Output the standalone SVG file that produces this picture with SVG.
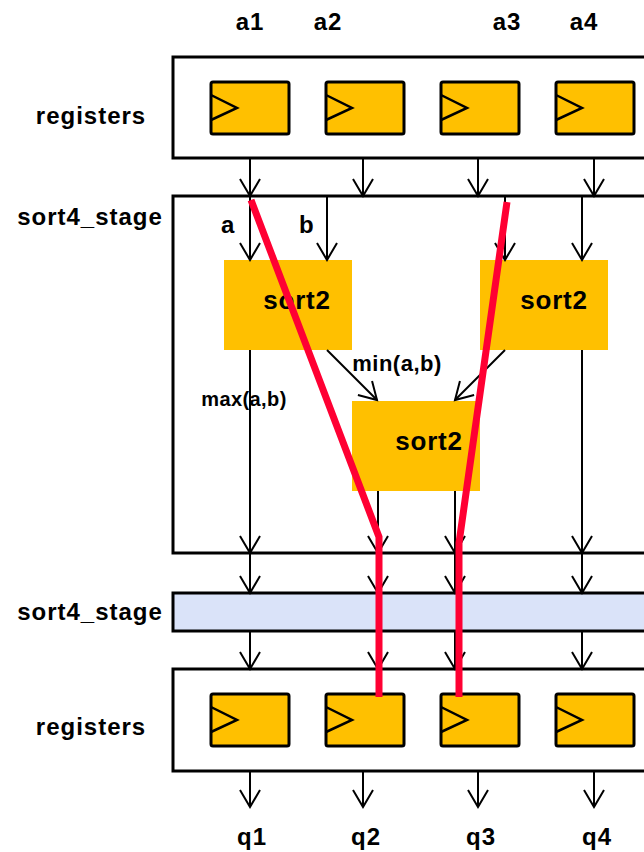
<svg xmlns="http://www.w3.org/2000/svg" width="644" height="852" viewBox="0 0 644 852">
<defs>
<marker id="arr" markerUnits="userSpaceOnUse" orient="auto" refX="0" refY="0" markerWidth="40" markerHeight="40" overflow="visible">
<path d="M-17,-10 L0,0 L-17,10" fill="none" stroke="#000" stroke-width="2"/>
</marker>
<style>
.box{fill:#fff;stroke:#000;stroke-width:3}
.bar{fill:#dae3f9;stroke:#000;stroke-width:3}
.cell{fill:#ffc000;stroke:#000;stroke-width:3}
.clk{fill:none;stroke:#000;stroke-width:2.5}
.sb{fill:#ffc000}
.w{fill:none;stroke:#000;stroke-width:2;marker-end:url(#arr)}
.red{fill:none;stroke:#ff0033;stroke-width:7;stroke-linejoin:miter}
text{font-family:"Liberation Sans",Arial,sans-serif;font-weight:bold;fill:#000}
.lbl{font-size:24px;letter-spacing:1px;text-anchor:middle}
.s2{font-size:26px;letter-spacing:0.8px;text-anchor:middle}
.sm{font-size:22px;letter-spacing:0.5px;text-anchor:middle}
.xs{font-size:20px;letter-spacing:0.4px;text-anchor:middle}
</style>
</defs>
<rect width="644" height="852" fill="#fff"/>

<g id="labels_in">
<text class="lbl" x="250" y="30">a1</text>
<text class="lbl" x="328" y="30">a2</text>
<text class="lbl" x="507" y="30">a3</text>
<text class="lbl" x="584" y="30">a4</text>
</g>

<g id="reg_top">
<rect class="box" x="173" y="57" width="480" height="101"/>
<rect class="cell" x="211" y="82" width="78" height="52" rx="2"/>
<rect class="cell" x="326" y="82" width="78" height="52" rx="2"/>
<rect class="cell" x="441" y="82" width="78" height="52" rx="2"/>
<rect class="cell" x="556" y="82" width="78" height="52" rx="2"/>
<path class="clk" d="M211,95 L237,108 L211,120 M326,95 L352,108 L326,120 M441,95 L467,108 L441,120 M556,95 L582,108 L556,120"/>
<text class="lbl" x="91" y="124">registers</text>
</g>

<g id="sort4_top">
<rect class="box" x="173" y="196" width="480" height="357"/>
<text class="lbl" x="90" y="225">sort4_stage</text>
</g>

<g id="sort2_a">
<rect class="sb" x="224" y="260" width="128" height="90"/>
<text class="s2" x="297" y="309">sort2</text>
</g>
<g id="sort2_b">
<rect class="sb" x="480" y="260" width="128" height="90"/>
<text class="s2" x="554" y="309">sort2</text>
</g>
<g id="sort2_c">
<rect class="sb" x="352" y="401" width="128" height="90"/>
<text class="s2" x="429" y="450">sort2</text>
</g>

<g id="sort4_bar">
<rect class="bar" x="173" y="593" width="480" height="38"/>
<text class="lbl" x="90" y="620">sort4_stage</text>
</g>

<g id="reg_bot">
<rect class="box" x="173" y="669" width="480" height="102"/>
<rect class="cell" x="211" y="694" width="78" height="52" rx="2"/>
<rect class="cell" x="326" y="694" width="78" height="52" rx="2"/>
<rect class="cell" x="441" y="694" width="78" height="52" rx="2"/>
<rect class="cell" x="556" y="694" width="78" height="52" rx="2"/>
<path class="clk" d="M211,707 L237,720 L211,732 M326,707 L352,720 L326,732 M441,707 L467,720 L441,732 M556,707 L582,720 L556,732"/>
<text class="lbl" x="91" y="735">registers</text>
</g>

<g id="labels_out">
<text class="lbl" x="252" y="845">q1</text>
<text class="lbl" x="366" y="845">q2</text>
<text class="lbl" x="481" y="845">q3</text>
<text class="lbl" x="597" y="845">q4</text>
</g>

<g id="connectors">
<line class="w" x1="250" y1="159" x2="250" y2="196"/>
<line class="w" x1="363" y1="159" x2="363" y2="196"/>
<line class="w" x1="478" y1="159" x2="478" y2="196"/>
<line class="w" x1="594" y1="159" x2="594" y2="196"/>

<line class="w" x1="250" y1="197" x2="250" y2="260"/>
<line class="w" x1="327" y1="197" x2="327" y2="260"/>
<line class="w" x1="505" y1="197" x2="505" y2="260"/>
<line class="w" x1="582" y1="197" x2="582" y2="260"/>

<line class="w" x1="250" y1="350" x2="250" y2="553"/>
<line class="w" x1="327" y1="350" x2="377" y2="400"/>
<line class="w" x1="505" y1="350" x2="455" y2="400"/>
<line class="w" x1="378" y1="491" x2="378" y2="553"/>
<line class="w" x1="455" y1="491" x2="455" y2="553"/>
<line class="w" x1="582" y1="350" x2="582" y2="553"/>

<line class="w" x1="250" y1="554" x2="250" y2="593"/>
<line class="w" x1="378" y1="554" x2="378" y2="593"/>
<line class="w" x1="455" y1="554" x2="455" y2="593"/>
<line class="w" x1="582" y1="554" x2="582" y2="593"/>

<line class="w" x1="250" y1="632" x2="250" y2="669"/>
<line class="w" x1="378" y1="632" x2="378" y2="669"/>
<line class="w" x1="455" y1="632" x2="455" y2="669"/>
<line class="w" x1="582" y1="632" x2="582" y2="669"/>

<line class="w" x1="250" y1="772" x2="250" y2="807"/>
<line class="w" x1="363" y1="772" x2="363" y2="807"/>
<line class="w" x1="478" y1="772" x2="478" y2="807"/>
<line class="w" x1="594" y1="772" x2="594" y2="807"/>

<text style="font-size:24px" x="221" y="233">a</text>
<text style="font-size:24px" x="299" y="233">b</text>
<text class="sm" x="397" y="371">min(a,b)</text>
<text class="xs" x="244" y="406">max(a,b)</text>
</g>

<g id="critical_path">
<polyline class="red" points="251,200 379,537 379,697"/>
<polyline class="red" points="507,202 459,543 459,697"/>
</g>
</svg>
